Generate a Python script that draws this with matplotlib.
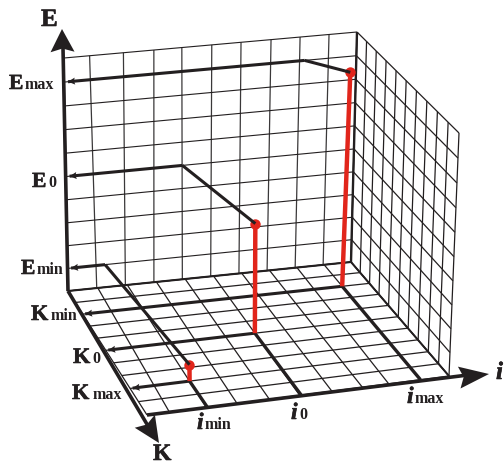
import numpy as np
import matplotlib
matplotlib.use('Agg')
import matplotlib.pyplot as plt
from matplotlib.patches import Polygon
import matplotlib.patheffects as pe

BLACK = '#231f20'
RED = '#e1251b'

# grid units, 0..10 along each of i, K, E
i_grid = list(range(11))
k_grid = list(range(11))
e_grid = list(range(11))

# the hand drawn grid is not quite even at its far ends
back_top_i = [0, 0.86, 2, 3.03, 3.98, 5, 6, 7.03, 8.03, 9.03, 10]
floor_front_i = [0, 0.7, 1.87, 2.85, 3.9, 4.9, 5.97, 7, 7.9, 9, 10]

# the three operating points
point_i = [1.9, 4.95, 9]
point_k = [8, 5, 2]
point_e = [0.73, 4.82, 9.3]
point_lean = [0.0, 0.0, 0.12]
bend_i = [1.3, 4.0, 8.2]
bend_e = [1.0, 5.0, 9.0]

# corners of the planes in picture pixels (i or K first, then E or K)
back_corners = [(68, 291), (351, 262), (357, 32), (64, 58)]
floor_corners = [(68, 291), (351, 262), (449, 376), (147, 415)]
side_corners = [(351, 262), (449, 376), (459, 133), (357, 32)]


def make_map(corners):
    # homography from the 0..10 square to the four corners
    src = [(0, 0), (10, 0), (10, 10), (0, 10)]
    a = []
    b = []
    for (u, v), (x, y) in zip(src, corners):
        a.append([u, v, 1, 0, 0, 0, -u * x, -v * x])
        a.append([0, 0, 0, u, v, 1, -u * y, -v * y])
        b += [x, y]
    h = np.append(np.linalg.solve(np.array(a, float), np.array(b, float)), 1).reshape(3, 3)

    def project(u, v):
        p = h @ np.array([u, v, 1.0])
        return np.array([p[0] / p[2], p[1] / p[2]])
    return project


back = make_map(back_corners)
floor = make_map(floor_corners)
side = make_map(side_corners)

fig = plt.figure(figsize=(5.04, 4.65), dpi=100)
ax = fig.add_axes([0, 0, 1, 1])
ax.set_xlim(0, 504)
ax.set_ylim(465, 0)
ax.axis('off')


def seg(p, q, lw=0.8, color=BLACK, z=2):
    ax.plot([p[0], q[0]], [p[1], q[1]], color=color, lw=lw, zorder=z, solid_capstyle='butt')


def head(tip, start, length, width, z=5):
    tip = np.array(tip, float)
    d = tip - np.array(start, float)
    d = d / np.hypot(d[0], d[1])
    n = np.array([-d[1], d[0]])
    base = tip - d * length
    notch = tip - d * length * 0.85
    ax.add_patch(Polygon([tip, base + n * width / 2, notch, base - n * width / 2],
                         closed=True, fc=BLACK, ec='none', zorder=z))


# wall and floor grids
for g in i_grid:
    seg(back(g, 0), back(back_top_i[g], 10), lw=0.9, color='#3a3839')
    seg(floor(g, 0), floor(floor_front_i[g], 10), lw=0.9)
for g in e_grid:
    seg(back(0, g), back(10, g), lw=0.8)
    seg(side(0, g), side(10, g), lw=0.9)
for g in k_grid:
    seg(floor(0, g), floor(10, g), lw=0.9)
    seg(side(g, 0), side(g, 10), lw=0.9)
seg(back(0, 0), back(10, 0), lw=1.5)
seg(floor(10, 0), floor(10, 10), lw=1.4)
seg(back(10, 0), back(10, 10), lw=1.7)

# main axes
origin = back(0, 0)
e_tip = (62, 29)
k_tip = (159, 443)
i_tip = (489, 374)
i_start = floor(0, 10)
seg(origin, (63, 48), lw=2.6, z=4)
seg(origin, (151, 431), lw=2.6, z=4)
seg(i_start, (468, 375), lw=2.6, z=4)
head(e_tip, origin, 23, 24)
head(k_tip, (146, 423), 26, 24)
head(i_tip, i_start, 30, 22)

# operating points: floor lines, stems, markers, guides
for n in range(len(point_i)):
    on_floor = floor(point_i[n], point_k[n])
    rise = back(point_i[n] + point_lean[n], point_e[n]) - back(point_i[n], 0)
    top = on_floor + rise
    bend = back(bend_i[n], bend_e[n])

    seg(floor(point_i[n], 10), on_floor, lw=2.4, z=4)
    k_end = floor(0.08, point_k[n])
    seg(on_floor, k_end, lw=2.2, z=4)
    head(k_end, on_floor, 7, 7)

    seg(on_floor, top, lw=3.2, color=RED, z=6)
    ax.plot([top[0]], [top[1]], 'o', color=RED, ms=7.5, mec='none', zorder=7)

    e_end = back(0.12, bend_e[n])
    seg(top, bend, lw=2.2, z=8)
    seg(bend, e_end, lw=2.2, z=8)
    head(e_end, bend, 7, 7)

heavy = [pe.withStroke(linewidth=0.4, foreground=BLACK)]


def label(x, y, main, size=15, sub=None, sub_x=None, style='normal'):
    ax.text(x, y, main, fontsize=size, family='Liberation Serif', weight='bold',
            style=style, color=BLACK, ha='left', va='baseline', zorder=9, path_effects=heavy)
    if sub is not None:
        ax.text(sub_x, y, sub, fontsize=11.5, family='Liberation Serif', weight='bold',
                color=BLACK, ha='left', va='baseline', zorder=9)


label(41, 26, 'E', size=18)
label(9, 89, 'E', size=15.5, sub='max', sub_x=25)
label(32, 187, 'E', size=15.5, sub='0', sub_x=48)
label(21, 274, 'E', size=15.5, sub='min', sub_x=37)
label(31, 320, 'K', size=16, sub='min', sub_x=51)
label(73, 363, 'K', size=16, sub='0', sub_x=92)
label(72, 399, 'K', size=16, sub='max', sub_x=93)
label(153, 460, 'K', size=17)
label(197, 429, 'i', size=17, sub='min', sub_x=205, style='italic')
label(291, 419, 'i', size=17, sub='0', sub_x=299, style='italic')
label(407, 403, 'i', size=17, sub='max', sub_x=415, style='italic')
label(496, 379, 'i', size=18, style='italic')

fig.savefig('out.png', dpi=100)
